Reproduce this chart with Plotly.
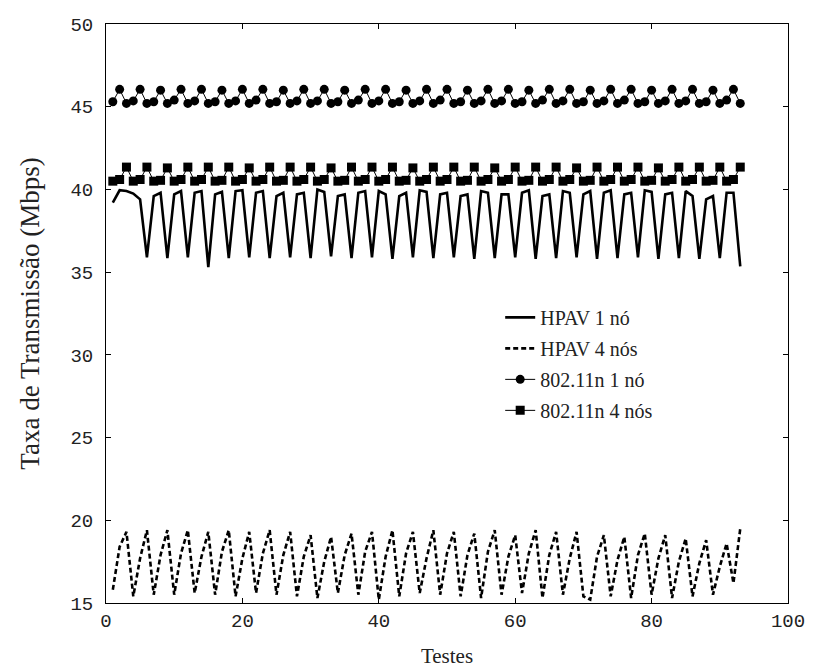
import plotly.graph_objects as go

testes = list(range(1, 94))

hpav_1no = [
    39.2, 39.95, 39.9, 39.75, 39.4, 35.9,
    39.6, 39.8, 35.85, 39.7, 39.9, 35.9, 39.8, 39.9, 35.3,
    39.7, 39.85, 35.85, 39.9, 39.95, 35.9, 39.8, 39.9, 35.85,
    39.6, 39.8, 35.9, 39.7, 39.8, 35.85, 40.0, 39.85, 35.95,
    39.6, 39.7, 35.85, 39.8, 39.9, 35.9, 39.9, 39.7, 35.8,
    39.6, 39.8, 35.9, 39.95, 39.85, 35.85, 39.7, 39.8, 35.9,
    39.6, 39.7, 35.8, 39.9, 39.8, 35.85, 39.7, 39.7, 35.9,
    39.8, 39.95, 35.8, 39.6, 39.7, 35.85, 39.9, 39.8, 35.9,
    39.7, 39.9, 35.8, 39.8, 39.95, 35.85, 39.7, 39.8, 35.9,
    39.95, 39.85, 35.8, 39.7, 39.8, 35.85, 39.9, 39.6, 35.8,
    39.4, 39.6, 35.85, 39.8, 39.8, 35.35,
]

hpav_4nos = [
    15.8, 18.4, 19.3, 15.4, 17.7, 19.4, 15.5, 17.9, 19.4, 15.5,
    18.0, 19.4, 15.6, 17.8, 19.3, 15.5, 18.1, 19.4, 15.4, 17.7,
    19.3, 15.6, 18.0, 19.4, 15.5, 17.9, 19.3, 15.4, 17.8, 19.1,
    15.3, 17.5, 19.0, 15.6, 17.9, 19.2, 15.5, 18.1, 19.3, 15.2,
    17.8, 19.4, 15.4, 18.0, 19.3, 15.6, 17.7, 19.4, 15.5, 18.0,
    19.3, 15.4, 17.9, 19.2, 15.3, 18.1, 19.4, 15.5, 17.8, 19.1,
    15.6, 18.0, 19.4, 15.3, 17.9, 19.3, 15.5, 17.7, 19.3, 15.4,
    15.2, 17.8, 19.1, 15.4, 17.6, 19.0, 15.3, 17.9, 19.2, 15.5,
    17.7, 19.1, 15.3, 17.5, 18.9, 15.4, 17.4, 18.8, 15.5, 17.2,
    18.6, 16.2, 19.5,
]

wifi_1no = [
    45.3, 46.05, 45.2, 45.35, 46.05, 45.2, 45.3, 46.0, 45.2, 45.4,
    46.05, 45.2, 45.35, 46.05, 45.2, 45.3, 46.0, 45.2, 45.35, 46.05,
    45.2, 45.4, 46.05, 45.2, 45.3, 46.0, 45.2, 45.35, 46.05, 45.2,
    45.35, 46.05, 45.2, 45.3, 46.0, 45.2, 45.4, 46.05, 45.2, 45.35,
    46.05, 45.2, 45.3, 46.0, 45.2, 45.35, 46.05, 45.2, 45.4, 46.05,
    45.2, 45.3, 46.0, 45.2, 45.35, 46.05, 45.2, 45.35, 46.05, 45.2,
    45.3, 46.0, 45.2, 45.4, 46.05, 45.2, 45.35, 46.05, 45.2, 45.3,
    46.0, 45.2, 45.35, 46.05, 45.2, 45.4, 46.05, 45.2, 45.3, 46.0,
    45.2, 45.35, 46.05, 45.2, 45.35, 46.05, 45.2, 45.3, 46.0, 45.2,
    45.4, 46.05, 45.2,
]

wifi_4nos = [
    40.5, 40.6, 41.35, 40.5, 40.6, 41.35, 40.5, 40.55, 41.3, 40.5,
    40.6, 41.35, 40.5, 40.6, 41.35, 40.5, 40.55, 41.35, 40.5, 40.6,
    41.3, 40.5, 40.6, 41.35, 40.5, 40.55, 41.35, 40.5, 40.6, 41.35,
    40.5, 40.6, 41.3, 40.5, 40.55, 41.35, 40.5, 40.6, 41.35, 40.5,
    40.6, 41.35, 40.5, 40.55, 41.3, 40.5, 40.6, 41.35, 40.5, 40.6,
    41.35, 40.5, 40.55, 41.35, 40.5, 40.6, 41.3, 40.5, 40.6, 41.35,
    40.5, 40.55, 41.35, 40.5, 40.6, 41.35, 40.5, 40.6, 41.3, 40.5,
    40.55, 41.35, 40.5, 40.6, 41.35, 40.5, 40.6, 41.35, 40.5, 40.55,
    41.3, 40.5, 40.6, 41.35, 40.5, 40.6, 41.35, 40.5, 40.55, 41.35,
    40.5, 40.6, 41.35,
]

names = ["HPAV 1 nó", "HPAV 4 nós", "802.11n 1 nó", "802.11n 4 nós"]
x_ticks = [0, 20, 40, 60, 80, 100]
y_ticks = [15, 20, 25, 30, 35, 40, 45, 50]

fig = go.Figure()
fig.add_trace(go.Scatter(x=testes, y=hpav_1no, mode="lines", name=names[0],
                         legendgroup="a",
                         line=dict(color="black", width=2.6)))
fig.add_trace(go.Scatter(x=testes, y=hpav_4nos, mode="lines", name=names[1],
                         legendgroup="b",
                         line=dict(color="black", width=2.6, dash="5px,3px")))
fig.add_trace(go.Scatter(x=testes, y=wifi_1no, mode="lines+markers", name=names[2],
                         legendgroup="c",
                         line=dict(color="black", width=1),
                         marker=dict(symbol="circle", size=9, color="black")))
fig.add_trace(go.Scatter(x=testes, y=wifi_4nos, mode="lines+markers", name=names[3],
                         legendgroup="d",
                         line=dict(color="black", width=1),
                         marker=dict(symbol="square", size=9, color="black")))

axis_common = dict(
    showline=True, linecolor="black", linewidth=1, mirror="allticks",
    ticks="inside", ticklen=5, tickcolor="black", showgrid=False, zeroline=False,
    automargin=False,
    tickfont=dict(family="Liberation Mono", size=19, color="#222"),
)

fig.update_layout(
    width=814, height=672,
    paper_bgcolor="white", plot_bgcolor="white",
    margin=dict(l=98, r=34, t=16, b=77),
    xaxis=dict(range=[0, 100], tickvals=x_ticks, ticklabelstandoff=0,
               title=dict(text="Testes", standoff=16,
                          font=dict(family="Liberation Serif", size=21, color="#222")),
               **axis_common),
    yaxis=dict(range=[15, 50], tickvals=y_ticks, ticklabelstandoff=8,
               title=dict(text="Taxa de Transmissão (Mbps)", standoff=22,
                          font=dict(family="Liberation Serif", size=27, color="#222")),
               **axis_common),
    legend=dict(x=0.578, y=0.527, xanchor="left", yanchor="top",
                bgcolor="rgba(0,0,0,0)", borderwidth=0,
                traceorder="grouped", tracegroupgap=2,
                font=dict(family="Liberation Serif", size=20, color="#222")),
    showlegend=True,
)

fig.write_html("out.html")
